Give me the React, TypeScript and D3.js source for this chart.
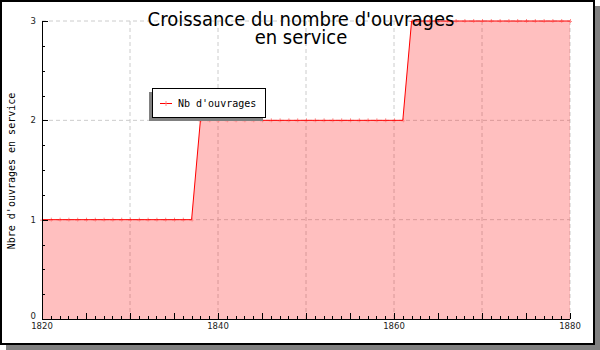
import React from "react";
import * as d3 from "d3";

const years = [
  1820, 1821, 1822, 1823, 1824, 1825, 1826, 1827, 1828, 1829,
  1830, 1831, 1832, 1833, 1834, 1835, 1836, 1837, 1838, 1839,
  1840, 1841, 1842, 1843, 1844, 1845, 1846, 1847, 1848, 1849,
  1850, 1851, 1852, 1853, 1854, 1855, 1856, 1857, 1858, 1859,
  1860, 1861, 1862, 1863, 1864, 1865, 1866, 1867, 1868, 1869,
  1870, 1871, 1872, 1873, 1874, 1875, 1876, 1877, 1878, 1879,
  1880,
];
const ouvrages = [
  1, 1, 1, 1, 1, 1, 1, 1, 1, 1,
  1, 1, 1, 1, 1, 1, 1, 1, 2, 2,
  2, 2, 2, 2, 2, 2, 2, 2, 2, 2,
  2, 2, 2, 2, 2, 2, 2, 2, 2, 2,
  2, 2, 3, 3, 3, 3, 3, 3, 3, 3,
  3, 3, 3, 3, 3, 3, 3, 3, 3, 3,
  3,
];
const xTickLabels = [1820, 1840, 1860, 1880];
const yTickLabels = [0, 1, 2, 3];
const titleLines = ["Croissance du nombre d'ouvrages", "en service"];
const yTitle = "Nbre d'ouvrages en service";
const seriesName = "Nb d'ouvrages";

export default function App() {
  const W = 600, H = 350;
  const left = 42, right = 570, top = 21, bottom = 319;
  const x = d3.scaleLinear().domain([1820, 1880]).range([left, right]);
  const y = d3.scaleLinear().domain([0, 3]).range([bottom, top]);
  const pts = years.map((yr, i) => [yr, ouvrages[i]] as [number, number]);
  const line = d3.line<[number, number]>().x(d => x(d[0])).y(d => y(d[1]))(pts) || "";
  const area = d3.area<[number, number]>().x(d => x(d[0])).y0(y(0)).y1(d => y(d[1]))(pts) || "";

  const minorX = d3.range(1820, 1881, 1);
  const majorX = d3.range(1820, 1881, 5);
  const gridX = d3.range(1830, 1881, 10);
  const minorY = d3.range(0, 3.001, 0.25);
  const gridY = [1, 2, 3];

  const labelFont = "DejaVu Sans";
  const mono = "DejaVu Sans Mono";

  return (
    <svg width={W} height={H} style={{ position: "absolute", left: 0, top: 0 }}>
      <rect x={0} y={0} width={W} height={H} fill="white" />
      {/* outer frame shadow */}
      <rect x={6} y={345} width={594} height={5} fill="#808080" />
      <rect x={595} y={6} width={5} height={344} fill="#808080" />
      <rect x={1} y={1} width={593} height={343} fill="white" stroke="black" strokeWidth={2} />

      {/* grid */}
      {gridX.map(v => (
        <line key={"gx" + v} x1={x(v)} x2={x(v)} y1={top} y2={bottom} stroke="#cccccc" strokeDasharray="4,3" />
      ))}
      {gridY.map(v => (
        <line key={"gy" + v} x1={left} x2={right} y1={y(v)} y2={y(v)} stroke="#cccccc" strokeDasharray="4,3" />
      ))}

      {/* area + line */}
      <path d={area} fill="rgb(255,0,0)" fillOpacity={0.25} stroke="none" />
      {pts.map((d, i) => (
        <g key={"m" + i} stroke="#ff8c8c" strokeWidth={1}>
          <line x1={x(d[0]) - 2} x2={x(d[0]) + 2} y1={y(d[1]) + 0.5} y2={y(d[1]) + 0.5} />
          <line x1={x(d[0]) + 0.5} x2={x(d[0]) + 0.5} y1={y(d[1]) - 2} y2={y(d[1]) + 2} />
        </g>
      ))}
      <path d={line} fill="none" stroke="red" strokeWidth={1} />

      {/* axes */}
      <line x1={left} x2={right} y1={bottom + 0.5} y2={bottom + 0.5} stroke="black" />
      <line x1={left + 0.5} x2={left + 0.5} y1={top} y2={bottom} stroke="black" />
      {minorX.map(v => (
        <line key={"mx" + v} x1={Math.round(x(v)) + 0.5} x2={Math.round(x(v)) + 0.5} y1={bottom} y2={bottom - 3} stroke="black" />
      ))}
      {majorX.map(v => (
        <line key={"Mx" + v} x1={Math.round(x(v)) + 0.5} x2={Math.round(x(v)) + 0.5} y1={bottom} y2={bottom - 6} stroke="black" />
      ))}
      {minorY.map(v => (
        <line key={"my" + v} x1={left} x2={left + 3} y1={Math.round(y(v)) + 0.5} y2={Math.round(y(v)) + 0.5} stroke="black" />
      ))}
      {yTickLabels.map(v => (
        <line key={"My" + v} x1={left} x2={left + 6} y1={Math.round(y(v)) + 0.5} y2={Math.round(y(v)) + 0.5} stroke="black" />
      ))}

      {xTickLabels.map(v => (
        <text key={"xl" + v} x={x(v)} y={329} textAnchor="middle" fontFamily={labelFont} fontSize={8.5} fill="#222">{v}</text>
      ))}
      {yTickLabels.map(v => (
        <text key={"yl" + v} x={36} y={y(v) + (v === 0 ? 0 : 3)} textAnchor="end" fontFamily={labelFont} fontSize={8.5} fill="#222">{v}</text>
      ))}

      {/* titles */}
      <text textAnchor="middle" fontFamily="DejaVu Sans Condensed" fontSize={20} fill="black">
        {titleLines.map((t, i) => (
          <tspan key={"t" + i} x={301} y={26 + i * 18}>{t}</tspan>
        ))}
      </text>
      <text transform={`translate(15,171) rotate(-90)`} textAnchor="middle" fontFamily={mono} fontSize={10} fill="black">{yTitle}</text>

      {/* legend */}
      <rect x={149} y={92} width={114} height={29} fill="#808080" />
      <rect x={152.5} y={88.5} width={113} height={29} fill="white" stroke="black" />
      <line x1={160} x2={172} y1={103.5} y2={103.5} stroke="red" />
      <line x1={166} x2={166} y1={101} y2={106} stroke="#ff8c8c" />
      <text x={178} y={107} fontFamily={mono} fontSize={10} fill="black">{seriesName}</text>
    </svg>
  );
}
